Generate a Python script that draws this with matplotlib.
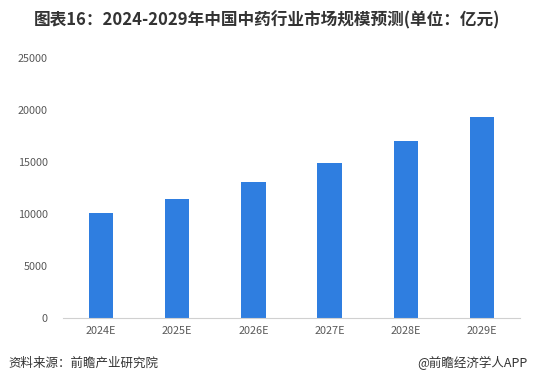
import matplotlib
matplotlib.use("Agg")
import matplotlib.pyplot as plt

plt.rcParams['font.family'] = ['Noto Sans CJK SC', 'DejaVu Sans']

years = ['2024E', '2025E', '2026E', '2027E', '2028E', '2029E']
values = [10100, 11450, 13080, 14900, 17020, 19330]
yticks = [0, 5000, 10000, 15000, 20000, 25000]

title = '图表16：2024-2029年中国中药行业市场规模预测(单位：亿元)'
source = '资料来源：前瞻产业研究院'
brand = '@前瞻经济学人APP'

fig = plt.figure(figsize=(5.33, 3.86), dpi=100)
ax = fig.add_axes([0.118, 0.176, 0.858, 0.674])

x = range(len(years))
ax.bar(x, values, width=0.32, color='#2F7EE0')

ax.set_xlim(-0.5, len(years) - 0.5)
ax.set_ylim(0, 25000)
ax.set_yticks(yticks)
ax.set_yticklabels([str(v) for v in yticks], fontsize=7.8, color='#595959')
ax.set_xticks(list(x))
ax.set_xticklabels(years, fontsize=7.8, color='#595959')
ax.tick_params(length=0, pad=6)
ax.tick_params(axis='y', pad=11)

for s in ['top', 'right', 'left']:
    ax.spines[s].set_visible(False)
ax.spines['bottom'].set_color('#D0D0D0')
ax.spines['bottom'].set_linewidth(0.8)

fig.text(0.5, 0.948, title, ha='center', va='center', fontsize=12,
         fontweight='bold', color='#333333')
fig.text(0.015, 0.06, source, ha='left', va='center', fontsize=9, color='#333333')
fig.text(0.99, 0.06, brand, ha='right', va='center', fontsize=9, color='#333333')

fig.savefig('out.png', dpi=100)
